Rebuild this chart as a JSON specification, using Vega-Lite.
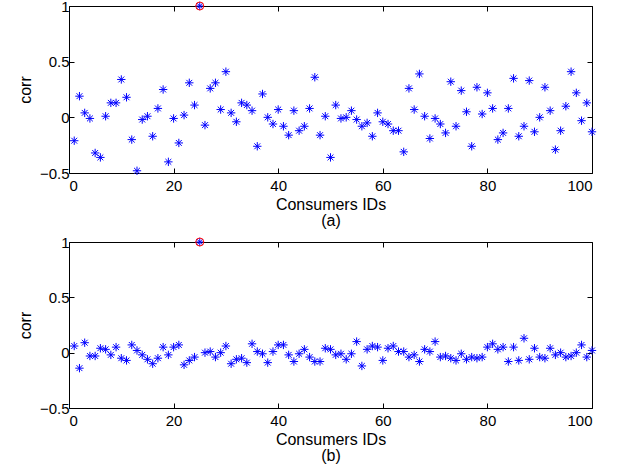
{
  "$schema": "https://vega.github.io/schema/vega-lite/v6.json",
  "padding": {"left": 16, "top": -2, "right": 5, "bottom": 0},
  "background": "white",
  "spacing": 5,
  "config": {
    "font": "Liberation Sans",
    "view": {"stroke": "black", "strokeWidth": 1},
    "axis": {
      "labelFont": "Liberation Sans",
      "labelFontSize": 15,
      "labelColor": "black",
      "titleFont": "Liberation Sans",
      "titleFontSize": 16,
      "titleFontWeight": "normal",
      "titleColor": "black",
      "tickColor": "black",
      "tickSize": -5,
      "domain": false,
      "grid": false
    }
  },
  "datasets": {
    "a": [
      {"id":1,"corr":-0.21},{"id":2,"corr":0.19},{"id":3,"corr":0.04},{"id":4,"corr":-0.01},{"id":5,"corr":-0.32},
      {"id":6,"corr":-0.36},{"id":7,"corr":0.01},{"id":8,"corr":0.13},{"id":9,"corr":0.13},{"id":10,"corr":0.34},
      {"id":11,"corr":0.18},{"id":12,"corr":-0.20},{"id":13,"corr":-0.48},{"id":14,"corr":-0.02},{"id":15,"corr":0.01},
      {"id":16,"corr":-0.17},{"id":17,"corr":0.08},{"id":18,"corr":0.25},{"id":19,"corr":-0.40},{"id":20,"corr":-0.01},
      {"id":21,"corr":-0.23},{"id":22,"corr":0.02},{"id":23,"corr":0.31},{"id":24,"corr":0.11},{"id":25,"corr":1},
      {"id":26,"corr":-0.07},{"id":27,"corr":0.26},{"id":28,"corr":0.31},{"id":29,"corr":0.07},{"id":30,"corr":0.41},
      {"id":31,"corr":0.04},{"id":32,"corr":-0.04},{"id":33,"corr":0.13},{"id":34,"corr":0.11},{"id":35,"corr":0.06},
      {"id":36,"corr":-0.26},{"id":37,"corr":0.21},{"id":38,"corr":0.00},{"id":39,"corr":-0.06},{"id":40,"corr":0.07},
      {"id":41,"corr":-0.08},{"id":42,"corr":-0.16},{"id":43,"corr":0.06},{"id":44,"corr":-0.12},{"id":45,"corr":-0.08},
      {"id":46,"corr":0.08},{"id":47,"corr":0.36},{"id":48,"corr":-0.16},{"id":49,"corr":0.01},{"id":50,"corr":-0.36},
      {"id":51,"corr":0.11},{"id":52,"corr":-0.01},{"id":53,"corr":0.00},{"id":54,"corr":0.06},{"id":55,"corr":-0.02},
      {"id":56,"corr":-0.08},{"id":57,"corr":-0.05},{"id":58,"corr":-0.17},{"id":59,"corr":0.04},{"id":60,"corr":-0.04},
      {"id":61,"corr":-0.06},{"id":62,"corr":-0.12},{"id":63,"corr":-0.12},{"id":64,"corr":-0.31},{"id":65,"corr":0.26},
      {"id":66,"corr":0.07},{"id":67,"corr":0.39},{"id":68,"corr":0.01},{"id":69,"corr":-0.19},{"id":70,"corr":-0.01},
      {"id":71,"corr":-0.06},{"id":72,"corr":-0.14},{"id":73,"corr":0.32},{"id":74,"corr":-0.08},{"id":75,"corr":0.24},
      {"id":76,"corr":0.05},{"id":77,"corr":-0.26},{"id":78,"corr":0.27},{"id":79,"corr":0.03},{"id":80,"corr":0.22},
      {"id":81,"corr":0.08},{"id":82,"corr":-0.20},{"id":83,"corr":-0.14},{"id":84,"corr":0.08},{"id":85,"corr":0.35},
      {"id":86,"corr":-0.17},{"id":87,"corr":-0.08},{"id":88,"corr":0.33},{"id":89,"corr":-0.13},{"id":90,"corr":0.00},
      {"id":91,"corr":0.27},{"id":92,"corr":0.06},{"id":93,"corr":-0.29},{"id":94,"corr":-0.12},{"id":95,"corr":0.10},
      {"id":96,"corr":0.41},{"id":97,"corr":0.22},{"id":98,"corr":-0.03},{"id":99,"corr":0.13},{"id":100,"corr":-0.13}
    ],
    "b": [
      {"id":1,"corr":0.06},{"id":2,"corr":-0.14},{"id":3,"corr":0.09},{"id":4,"corr":-0.03},{"id":5,"corr":-0.03},
      {"id":6,"corr":0.04},{"id":7,"corr":0.03},{"id":8,"corr":-0.02},{"id":9,"corr":0.05},{"id":10,"corr":-0.05},
      {"id":11,"corr":-0.07},{"id":12,"corr":0.07},{"id":13,"corr":0.02},{"id":14,"corr":-0.02},{"id":15,"corr":-0.06},
      {"id":16,"corr":-0.10},{"id":17,"corr":-0.05},{"id":18,"corr":0.05},{"id":19,"corr":-0.02},{"id":20,"corr":0.05},
      {"id":21,"corr":0.07},{"id":22,"corr":-0.11},{"id":23,"corr":-0.07},{"id":24,"corr":-0.04},{"id":25,"corr":1},
      {"id":26,"corr":0.00},{"id":27,"corr":0.01},{"id":28,"corr":-0.04},{"id":29,"corr":0.00},{"id":30,"corr":0.06},
      {"id":31,"corr":-0.10},{"id":32,"corr":-0.06},{"id":33,"corr":-0.05},{"id":34,"corr":-0.09},{"id":35,"corr":0.08},
      {"id":36,"corr":0.01},{"id":37,"corr":-0.01},{"id":38,"corr":-0.09},{"id":39,"corr":0.01},{"id":40,"corr":0.07},
      {"id":41,"corr":0.07},{"id":42,"corr":-0.02},{"id":43,"corr":-0.08},{"id":44,"corr":-0.01},{"id":45,"corr":0.03},
      {"id":46,"corr":-0.04},{"id":47,"corr":-0.08},{"id":48,"corr":-0.08},{"id":49,"corr":0.04},{"id":50,"corr":0.03},
      {"id":51,"corr":-0.02},{"id":52,"corr":-0.01},{"id":53,"corr":-0.06},{"id":54,"corr":-0.01},{"id":55,"corr":0.10},
      {"id":56,"corr":-0.12},{"id":57,"corr":0.03},{"id":58,"corr":0.06},{"id":59,"corr":0.05},{"id":60,"corr":-0.07},
      {"id":61,"corr":0.04},{"id":62,"corr":0.06},{"id":63,"corr":0.01},{"id":64,"corr":0.01},{"id":65,"corr":-0.04},
      {"id":66,"corr":-0.02},{"id":67,"corr":-0.08},{"id":68,"corr":0.03},{"id":69,"corr":0.01},{"id":70,"corr":0.10},
      {"id":71,"corr":-0.04},{"id":72,"corr":-0.03},{"id":73,"corr":-0.05},{"id":74,"corr":-0.07},{"id":75,"corr":-0.01},
      {"id":76,"corr":-0.06},{"id":77,"corr":-0.04},{"id":78,"corr":-0.05},{"id":79,"corr":-0.04},{"id":80,"corr":0.05},
      {"id":81,"corr":0.08},{"id":82,"corr":0.03},{"id":83,"corr":0.05},{"id":84,"corr":-0.08},{"id":85,"corr":0.05},
      {"id":86,"corr":-0.07},{"id":87,"corr":0.13},{"id":88,"corr":-0.06},{"id":89,"corr":0.04},{"id":90,"corr":-0.04},
      {"id":91,"corr":-0.05},{"id":92,"corr":0.04},{"id":93,"corr":-0.02},{"id":94,"corr":0.00},{"id":95,"corr":-0.04},
      {"id":96,"corr":-0.03},{"id":97,"corr":0.00},{"id":98,"corr":0.07},{"id":99,"corr":-0.04},{"id":100,"corr":0.02}
    ]
  },
  "vconcat": [
    {
      "width": 523,
      "height": 167,
      "data": {"name": "a"},
      "layer": [
        {
          "mark": {"type": "point", "shape": "M-1,0H1M0,-1V1M-0.7,-0.7L0.7,0.7M-0.7,0.7L0.7,-0.7", "size": 70, "filled": false, "stroke": "#0000ff", "strokeWidth": 1, "opacity": 1},
          "encoding": {
            "x": {"field": "id", "type": "quantitative", "scale": {"domain": [0, 100], "nice": false}, "axis": {"orient": "bottom", "values": [0,20,40,60,80,100], "title": ["Consumers IDs", "(a)"], "titleLineHeight": 16, "labelPadding": 10, "titlePadding": 3}},
            "y": {"field": "corr", "type": "quantitative", "scale": {"domain": [-0.5, 1], "nice": false, "zero": false}, "axis": {"orient": "left", "values": [-0.5,0,0.5,1], "format": "~g", "title": "corr", "labelPadding": 5, "titlePadding": 6}}
          }
        },
        {
          "transform": [{"filter": "datum.id == 25"}],
          "mark": {"type": "point", "shape": "circle", "size": 64, "filled": false, "stroke": "#ff0000", "strokeWidth": 1, "opacity": 1},
          "encoding": {
            "x": {"field": "id", "type": "quantitative", "scale": {"domain": [0, 100], "nice": false}, "axis": {"orient": "top", "values": [0,20,40,60,80,100], "labels": false, "title": null}},
            "y": {"field": "corr", "type": "quantitative", "scale": {"domain": [-0.5, 1], "nice": false, "zero": false}, "axis": {"orient": "right", "values": [-0.5,0,0.5,1], "labels": false, "title": null}}
          }
        }
      ],
      "resolve": {"axis": {"x": "independent", "y": "independent"}}
    },
    {
      "width": 523,
      "height": 166,
      "data": {"name": "b"},
      "layer": [
        {
          "mark": {"type": "point", "shape": "M-1,0H1M0,-1V1M-0.7,-0.7L0.7,0.7M-0.7,0.7L0.7,-0.7", "size": 70, "filled": false, "stroke": "#0000ff", "strokeWidth": 1, "opacity": 1},
          "encoding": {
            "x": {"field": "id", "type": "quantitative", "scale": {"domain": [0, 100], "nice": false}, "axis": {"orient": "bottom", "values": [0,20,40,60,80,100], "title": ["Consumers IDs", "(b)"], "titleLineHeight": 16, "labelPadding": 10, "titlePadding": 3}},
            "y": {"field": "corr", "type": "quantitative", "scale": {"domain": [-0.5, 1], "nice": false, "zero": false}, "axis": {"orient": "left", "values": [-0.5,0,0.5,1], "format": "~g", "title": "corr", "labelPadding": 5, "titlePadding": 6}}
          }
        },
        {
          "transform": [{"filter": "datum.id == 25"}],
          "mark": {"type": "point", "shape": "circle", "size": 64, "filled": false, "stroke": "#ff0000", "strokeWidth": 1, "opacity": 1},
          "encoding": {
            "x": {"field": "id", "type": "quantitative", "scale": {"domain": [0, 100], "nice": false}, "axis": {"orient": "top", "values": [0,20,40,60,80,100], "labels": false, "title": null}},
            "y": {"field": "corr", "type": "quantitative", "scale": {"domain": [-0.5, 1], "nice": false, "zero": false}, "axis": {"orient": "right", "values": [-0.5,0,0.5,1], "labels": false, "title": null}}
          }
        }
      ],
      "resolve": {"axis": {"x": "independent", "y": "independent"}}
    }
  ]
}
